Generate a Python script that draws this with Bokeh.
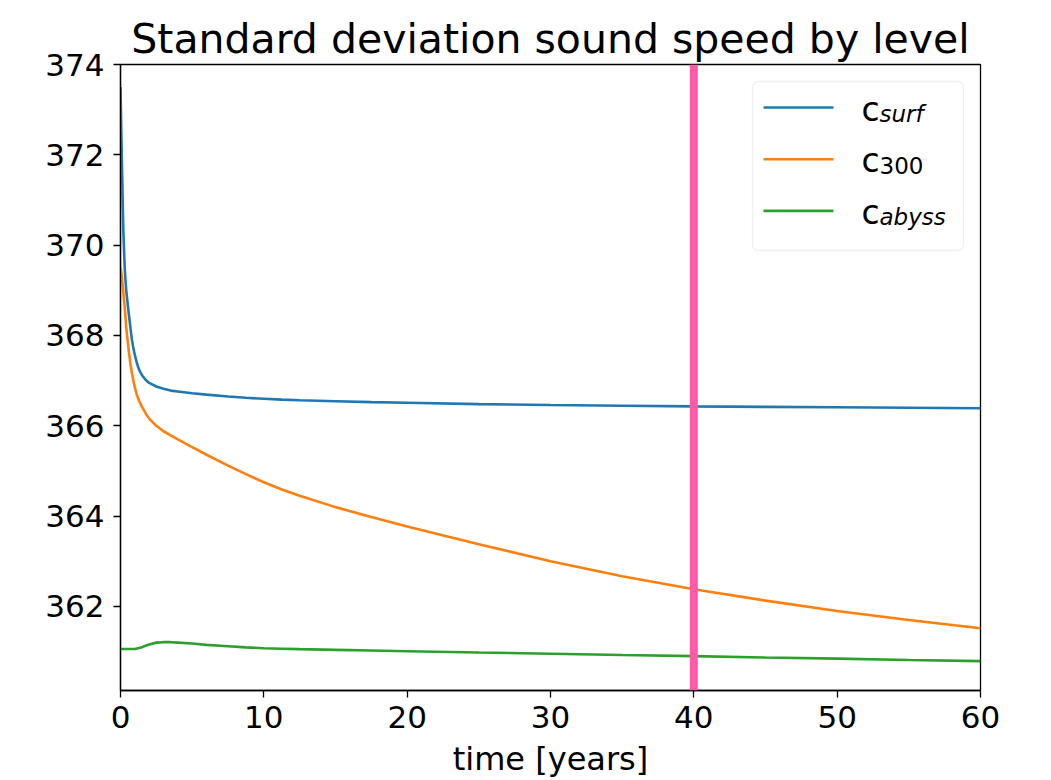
from bokeh.plotting import figure
from bokeh.models import Range1d, Span, BoxAnnotation, Label, Arrow, FixedTicker
from bokeh.embed import file_html
from bokeh.resources import INLINE

# ---- data ----
time_years = [0, 0.05, 0.1, 0.15, 0.2, 0.3, 0.4, 0.5, 0.6, 0.7, 0.8, 0.9, 1.0, 1.15, 1.3,
              1.5, 1.75, 2.0, 2.5, 3.0, 3.5, 4, 5, 6, 7.5, 8.75, 10, 11.25, 12.5, 15,
              17.5, 20, 25, 30, 35, 40, 45, 50, 55, 60]
c_surf = [373.5, 372.6, 371.8, 371.0, 370.3, 369.45, 369.0, 368.7, 368.42, 368.15,
          367.9, 367.72, 367.57, 367.38, 367.24, 367.12, 367.02, 366.95, 366.87, 366.82,
          366.78, 366.76, 366.72, 366.69, 366.65, 366.62, 366.60, 366.58, 366.565, 366.545,
          366.525, 366.51, 366.48, 366.46, 366.445, 366.43, 366.42, 366.41, 366.40, 366.39]
c_300 = [369.5, 369.4, 369.3, 369.12, 368.95, 368.6, 368.18, 367.88, 367.6, 367.36,
         367.17, 367.0, 366.85, 366.68, 366.55, 366.42, 366.28, 366.16, 366.0, 365.88,
         365.79, 365.70, 365.53, 365.36, 365.12, 364.93, 364.75, 364.59, 364.45, 364.20,
         363.98, 363.77, 363.38, 363.00, 362.67, 362.38, 362.13, 361.90, 361.70, 361.52]
c_abyss = [361.06, 361.06, 361.06, 361.06, 361.06, 361.06, 361.06, 361.06, 361.06, 361.06,
           361.06, 361.06, 361.06, 361.07, 361.08, 361.10, 361.13, 361.16, 361.20, 361.21,
           361.21, 361.20, 361.18, 361.15, 361.12, 361.095, 361.075, 361.065, 361.055, 361.04,
           361.025, 361.01, 360.98, 360.955, 360.925, 360.90, 360.87, 360.845, 360.815, 360.79]
series_values = [c_surf, c_300, c_abyss]
series_subscripts = ["surf", "300", "abyss"]
series_colors = ["#1f77b4", "#ff7f0e", "#2ca02c"]
marker_year = 40
x_ticks = [0, 10, 20, 30, 40, 50, 60]
y_ticks = [362, 364, 366, 368, 370, 372, 374]
title_text = "Standard deviation sound speed by level"
x_label = "time [years]"

FONT = "DejaVu Sans"

p = figure(width=1051, height=780, output_backend="svg", toolbar_location=None,
           x_range=Range1d(0, 60), y_range=Range1d(360.14, 374),
           min_border_left=120, min_border_right=71, min_border_top=64, min_border_bottom=90,
           title=title_text)
p.background_fill_color = "white"
p.border_fill_color = "white"
p.outline_line_color = "black"
p.outline_line_width = 1.3
p.grid.visible = False

p.title.text_font = FONT
p.title.text_font_size = "41px"
p.title.text_font_style = "normal"
p.title.align = "center"
p.title.text_color = "black"
p.title.standoff = 4

for ax in (p.xaxis[0], p.yaxis[0]):
    ax.axis_line_color = "black"
    ax.axis_line_width = 1.3
    ax.major_tick_line_color = "black"
    ax.major_tick_line_width = 1.3
    ax.major_tick_out = 7
    ax.major_tick_in = 0
    ax.minor_tick_line_color = None
    ax.major_label_text_font = FONT
    ax.major_label_text_font_size = "31px"
    ax.major_label_text_color = "black"

p.xaxis.ticker = FixedTicker(ticks=x_ticks)
p.yaxis.ticker = FixedTicker(ticks=y_ticks)
p.xaxis.major_label_standoff = 8
p.yaxis.major_label_standoff = 9
p.xaxis.axis_label = x_label
p.xaxis.axis_label_text_font = FONT
p.xaxis.axis_label_text_font_size = "32px"
p.xaxis.axis_label_text_font_style = "normal"
p.xaxis.axis_label_text_color = "black"
p.xaxis.axis_label_standoff = 9

for vals, col in zip(series_values, series_colors):
    p.line(time_years, vals, line_color=col, line_width=2.6)

p.add_layout(Span(location=marker_year, dimension="height", line_color="#ff59a8", line_width=8))

# ---- legend (drawn manually to allow subscripts); screen units relative to frame ----
frame_h = 626
def sy(y_from_top):
    return frame_h - y_from_top

p.add_layout(BoxAnnotation(left=632, right=843, top=sy(17), bottom=sy(186),
                           left_units="screen", right_units="screen",
                           top_units="screen", bottom_units="screen",
                           fill_color="white", fill_alpha=0.8,
                           line_color="#cccccc", line_width=1.3, border_radius=6))
for i, (sub, col) in enumerate(zip(series_subscripts, series_colors)):
    ly = 43 + i * 51.7
    p.add_layout(Arrow(x_start=643, y_start=sy(ly), x_end=713, y_end=sy(ly),
                       start_units="screen", end_units="screen",
                       start=None, end=None, line_color=col, line_width=2.6))
    p.add_layout(Label(x=741, y=sy(ly + 1.5), x_units="screen", y_units="screen",
                       text="c", text_font=FONT, text_font_size="33px",
                       text_baseline="alphabetic", text_color="black"))
    p.add_layout(Label(x=759, y=sy(ly + 6), x_units="screen", y_units="screen",
                       text=sub, text_font=FONT, text_font_size="23px",
                       text_font_style="normal" if sub.isdigit() else "italic",
                       text_baseline="alphabetic", text_color="black"))

open("out.html", "w").write(file_html(p, INLINE))
